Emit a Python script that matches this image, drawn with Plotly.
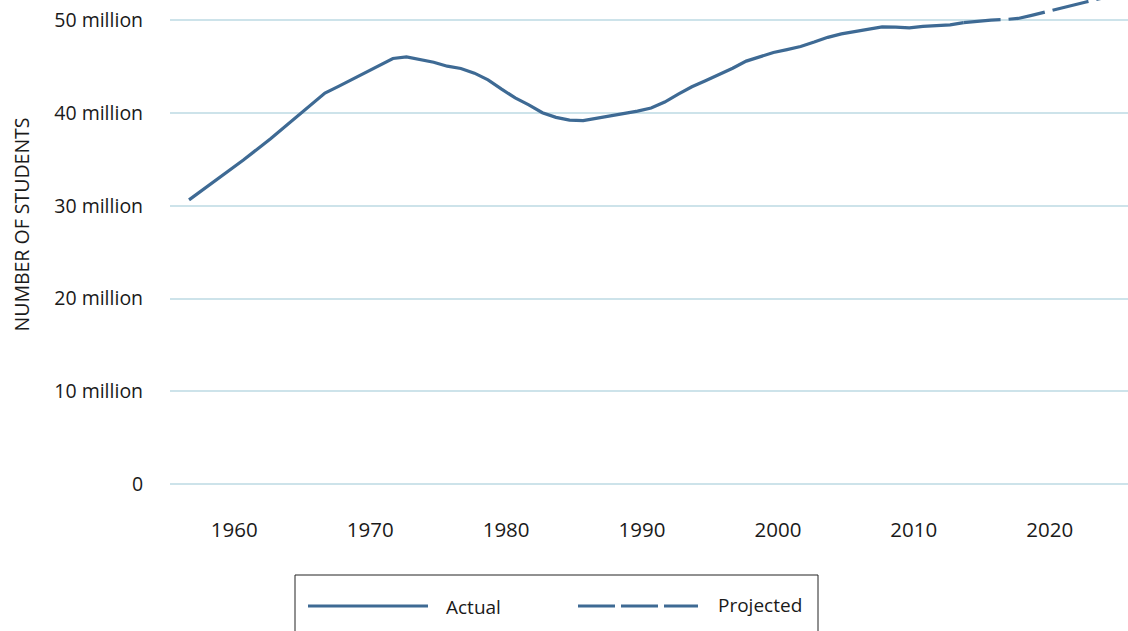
import plotly.graph_objects as go

# fall enrollment, public elementary + secondary, millions
actual_years = [1955, 1957, 1959, 1961, 1963, 1965, 1966, 1967, 1968, 1969,
                1970, 1971, 1972, 1973, 1974, 1975, 1976, 1977, 1978, 1979,
                1980, 1981, 1982, 1983, 1984, 1985, 1986, 1987, 1988, 1989,
                1990, 1991, 1992, 1993, 1994, 1995, 1996, 1997, 1998, 1999,
                2000, 2001, 2002, 2003, 2004, 2005, 2006, 2007, 2008, 2009,
                2010, 2011, 2012]
actual_values = [30.65, 32.8, 34.95, 37.25, 39.7, 42.17, 42.9, 43.65, 44.4, 45.15,
                 45.9, 46.08, 45.76, 45.5, 45.07, 44.82, 44.32, 43.6, 42.6, 41.65,
                 40.9, 40.05, 39.55, 39.25, 39.2, 39.45, 39.77, 40.02, 40.22, 40.56,
                 41.2, 42.05, 42.85, 43.5, 44.15, 44.85, 45.62, 46.13, 46.55, 46.86,
                 47.2, 47.67, 48.18, 48.55, 48.8, 49.12, 49.32, 49.29, 49.2, 49.36,
                 49.48, 49.52, 49.77]

projected_years = [2012, 2013, 2014, 2015, 2016, 2017, 2018, 2019, 2020, 2021,
                   2022, 2023, 2024, 2025]
projected_values = [49.77, 49.93, 50.04, 50.1, 50.22, 50.55, 50.93, 51.3, 51.65, 52.0,
                    52.35, 52.65, 52.95, 53.3]

y_ticks = [0, 10, 20, 30, 40, 50]
y_tick_labels = ['0', '10 million', '20 million', '30 million', '40 million', '50 million']
x_tick_labels = ['1960', '1970', '1980', '1990', '2000', '2010', '2020']
x_tick_pos = [1958.33, 1968.33, 1978.33, 1988.33, 1998.33, 2008.33, 2018.33]

LINE = '#3e6a94'
GRID = '#cde3ea'
TEXT = '#1a1a1a'
FONT = 'Open Sans'

W, H = 1128, 631
PL, PT, PW, PH = 170, 0, 958, 485


def px_x(x):
    return (x - PL) / PW


def px_y(y):
    return (PT + PH - y) / PH


fig = go.Figure()
fig.add_trace(go.Scatter(
    x=actual_years, y=actual_values, name='Actual', mode='lines',
    line=dict(color=LINE, width=3.2), showlegend=False
))
fig.add_trace(go.Scatter(
    x=projected_years, y=projected_values, name='Projected', mode='lines',
    line=dict(color=LINE, width=3.2, dash='37px,8px'), showlegend=False
))

# hand-drawn legend box (long line samples like the original)
shapes = [
    dict(type='rect', xref='paper', yref='paper',
         x0=px_x(295), x1=px_x(818), y0=px_y(575), y1=px_y(680),
         line=dict(color='#222222', width=1), fillcolor='rgba(0,0,0,0)'),
    dict(type='line', xref='paper', yref='paper',
         x0=px_x(308), x1=px_x(428), y0=px_y(606), y1=px_y(606),
         line=dict(color=LINE, width=3.2)),
    dict(type='line', xref='paper', yref='paper',
         x0=px_x(578), x1=px_x(698), y0=px_y(606), y1=px_y(606),
         line=dict(color=LINE, width=3.2, dash='37px,6px')),
]
annotations = [
    dict(text='Actual', xref='paper', yref='paper', x=px_x(444), y=px_y(607),
         xanchor='left', yanchor='middle', showarrow=False,
         font=dict(family=FONT, size=19, color=TEXT)),
    dict(text='Projected', xref='paper', yref='paper', x=px_x(716), y=px_y(605),
         xanchor='left', yanchor='middle', showarrow=False,
         font=dict(family=FONT, size=19, color=TEXT)),
    dict(text='NUMBER OF STUDENTS', xref='paper', yref='paper', x=px_x(20.5), y=px_y(225),
         xanchor='center', yanchor='middle', textangle=-90, showarrow=False,
         font=dict(family=FONT, size=19.5, color=TEXT)),
]

fig.update_layout(
    width=W, height=H,
    margin=dict(l=PL, r=0, t=PT, b=H - PT - PH, pad=0),
    paper_bgcolor='white', plot_bgcolor='white',
    font=dict(family=FONT, size=19.5, color=TEXT),
    shapes=shapes, annotations=annotations,
    xaxis=dict(range=[1953.6, 2024.09], tickvals=x_tick_pos, ticktext=x_tick_labels,
               tickfont=dict(size=20.5),
               showgrid=False, zeroline=False, showline=False,
               ticks='outside', ticklen=26, tickcolor='rgba(0,0,0,0)'),
    yaxis=dict(range=[-0.1, 52.21], tickvals=y_ticks, ticktext=y_tick_labels,
               showgrid=True, gridcolor=GRID, gridwidth=2,
               zeroline=True, zerolinecolor=GRID, zerolinewidth=2, showline=False,
               ticks='outside', ticklen=22, tickcolor='rgba(0,0,0,0)'),
)

# the page body has an 8px default margin; drop it so the chart sits at the window corner
fig.write_html('out.html', config={'displayModeBar': False},
               post_script="document.body.style.margin='0px';")
